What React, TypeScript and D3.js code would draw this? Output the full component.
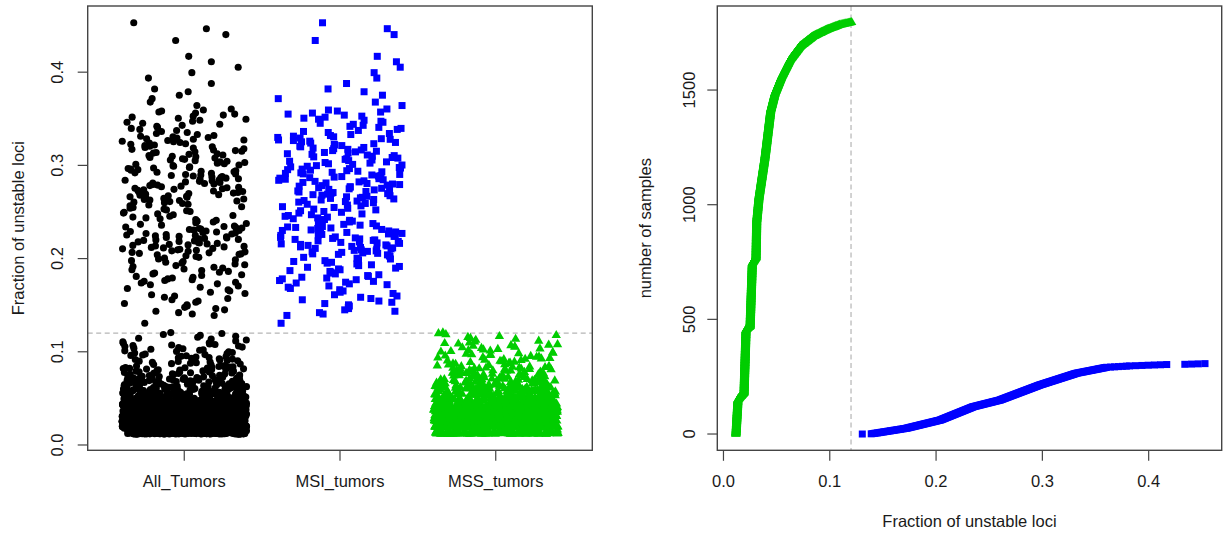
import React from 'react';
import * as d3 from 'd3';

// ---- data ----
const categories = ['All_Tumors', 'MSI_tumors', 'MSS_tumors'];

// MSS tumours: cumulative sample rank -> fraction of unstable loci
const mssRankKnots = [0, 150, 180, 455, 470, 745, 770, 933, 1035, 1209, 1268, 1413, 1486, 1558, 1631, 1689, 1733, 1762, 1784, 1795];
const mssFractionKnots = [0.0117, 0.0136, 0.0193, 0.0212, 0.025, 0.0271, 0.0306, 0.0313, 0.0334, 0.039, 0.0406, 0.0444, 0.0484, 0.0547, 0.0626, 0.072, 0.0842, 0.097, 0.1096, 0.1206];

// MSI tumours
const msiRankKnots = [0, 1, 5, 25, 61, 119, 148, 214, 265, 291, 296, 297, 303, 304, 307];
const msiFractionKnots = [0.1306, 0.139, 0.145, 0.172, 0.204, 0.235, 0.26, 0.2977, 0.332, 0.3605, 0.379, 0.382, 0.417, 0.434, 0.453];

const leftYTicks = [0, 0.1, 0.2, 0.3, 0.4];
const rightXTicks = [0, 0.1, 0.2, 0.3, 0.4];
const rightYTicks = [0, 500, 1000, 1500];
const threshold = 0.12;

const FONT = '"Liberation Sans", Arial, Helvetica, sans-serif';
const FS = 16.5;
const BLACK = '#000000';
const BLUE = '#0000FF';
const GREEN = '#00CD00';

function expandSamples(ranks: number[], fracs: number[]): number[] {
  const n = ranks[ranks.length - 1] + 1;
  const q = d3.scaleLinear().domain(ranks).range(fracs);
  return d3.range(n).map((i) => q(i));
}

function jit(i: number, seed: number): number {
  const s = Math.sin(i * 12.9898 + seed * 78.233) * 43758.5453;
  return (s - Math.floor(s)) * 2 - 1;
}

export default function App() {
  const mss = expandSamples(mssRankKnots, mssFractionKnots);
  const msi = expandSamples(msiRankKnots, msiFractionKnots);
  const all = msi.concat(mss);

  // left panel
  const L = { x0: 87.7, x1: 592.3, y0: 6, y1: 450.3 };
  const lx = d3.scaleLinear().domain([0.38, 3.62]).range([L.x0, L.x1]);
  const ly = d3.scaleLinear().domain([-0.0057, 0.471]).range([L.y1, L.y0]);

  // right panel
  const R = { x0: 717.3, x1: 1221.7, y0: 6, y1: 450.3 };
  const rx = d3.scaleLinear().domain([-0.0058, 0.4687]).range([R.x0, R.x1]);
  const ry = d3.scaleLinear().domain([-71, 1866.5]).range([R.y1, R.y0]);

  const tri = d3.symbol(d3.symbolTriangle, 38)() as string;
  const sq = 7;
  const amount = 0.4;

  const textStyle = { fontFamily: FONT, fontSize: FS, fill: '#1a1a1a' } as React.CSSProperties;

  return (
    <svg
      width={1223}
      height={534}
      style={{ position: 'absolute', left: 0, top: 0, background: '#fff' }}
    >
      <rect x={0} y={0} width={1223} height={534} fill="#fff" />

      {/* ===== LEFT PANEL ===== */}
      <line x1={L.x0} x2={L.x1} y1={ly(threshold)} y2={ly(threshold)} stroke="#b5b5b5" strokeWidth={1.2} strokeDasharray="5,3.5" />
      <g>
        {all.map((v, i) => (
          <circle key={'a' + i} cx={lx(1 + jit(i, 1) * amount)} cy={ly(v)} r={3.55} fill={BLACK} />
        ))}
      </g>
      <g>
        {msi.map((v, i) => (
          <rect key={'m' + i} x={lx(2 + jit(i, 2) * amount) - sq / 2} y={ly(v) - sq / 2} width={sq} height={sq} fill={BLUE} />
        ))}
      </g>
      <g>
        {mss.map((v, i) => (
          <path key={'s' + i} d={tri} transform={`translate(${lx(3 + jit(i, 3) * amount)},${ly(v)})`} fill={GREEN} />
        ))}
      </g>
      <rect x={L.x0} y={L.y0} width={L.x1 - L.x0} height={L.y1 - L.y0} fill="none" stroke="#444" strokeWidth={1.4} />
      {leftYTicks.map((t) => (
        <g key={'ly' + t}>
          <line x1={L.x0 - 10} x2={L.x0} y1={ly(t)} y2={ly(t)} stroke="#444" strokeWidth={1.2} />
          <text transform={`translate(63.3,${ly(t)}) rotate(-90)`} textAnchor="middle" style={textStyle}>
            {d3.format('.1f')(t)}
          </text>
        </g>
      ))}
      {categories.map((c, i) => (
        <g key={c}>
          <line x1={lx(i + 1)} x2={lx(i + 1)} y1={L.y1} y2={L.y1 + 10.5} stroke="#444" strokeWidth={1.2} />
          <text x={lx(i + 1)} y={487} textAnchor="middle" style={textStyle}>
            {c}
          </text>
        </g>
      ))}
      <text transform={`translate(24,${(L.y0 + L.y1) / 2}) rotate(-90)`} textAnchor="middle" style={textStyle}>
        Fraction of unstable loci
      </text>

      {/* ===== RIGHT PANEL ===== */}
      <line x1={rx(threshold)} x2={rx(threshold)} y1={R.y0} y2={R.y1} stroke="#b5b5b5" strokeWidth={1.2} strokeDasharray="5,3.5" />
      <g>
        {mss.map((v, i) => (
          <path key={'rs' + i} d={tri} transform={`translate(${rx(v)},${ry(i)})`} fill={GREEN} />
        ))}
      </g>
      <g>
        {msi.map((v, i) => (
          <rect key={'rm' + i} x={rx(v) - sq / 2} y={ry(i) - sq / 2} width={sq} height={sq} fill={BLUE} />
        ))}
      </g>
      <rect x={R.x0} y={R.y0} width={R.x1 - R.x0} height={R.y1 - R.y0} fill="none" stroke="#444" strokeWidth={1.4} />
      {rightXTicks.map((t) => (
        <g key={'rx' + t}>
          <line x1={rx(t)} x2={rx(t)} y1={R.y1} y2={R.y1 + 10.5} stroke="#444" strokeWidth={1.2} />
          <text x={rx(t)} y={487.3} textAnchor="middle" style={textStyle}>
            {d3.format('.1f')(t)}
          </text>
        </g>
      ))}
      {rightYTicks.map((t) => (
        <g key={'ry' + t}>
          <line x1={R.x0 - 10} x2={R.x0} y1={ry(t)} y2={ry(t)} stroke="#444" strokeWidth={1.2} />
          <text transform={`translate(695,${ry(t)}) rotate(-90)`} textAnchor="middle" style={textStyle}>
            {String(t)}
          </text>
        </g>
      ))}
      <text x={(R.x0 + R.x1) / 2} y={527} textAnchor="middle" style={textStyle}>
        Fraction of unstable loci
      </text>
      <text transform={`translate(650.5,${(R.y0 + R.y1) / 2}) rotate(-90)`} textAnchor="middle" style={textStyle}>
        number of samples
      </text>
    </svg>
  );
}
